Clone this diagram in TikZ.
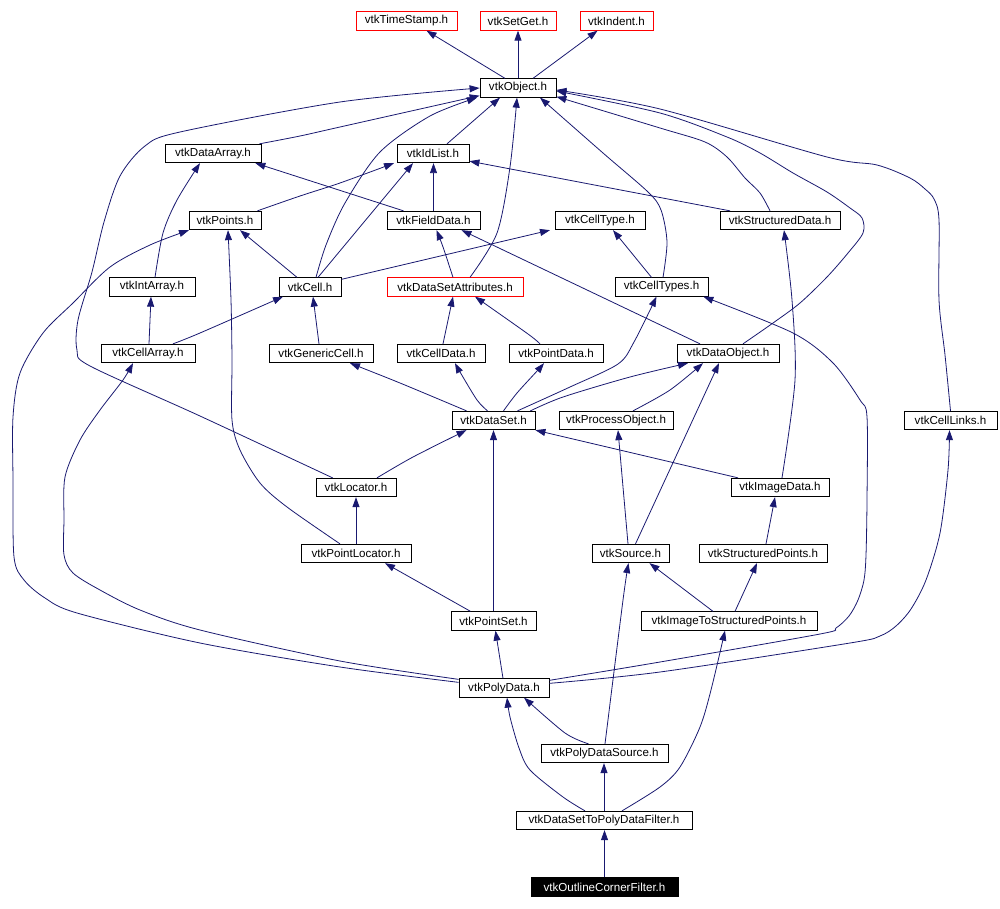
\documentclass[tikz,border=0pt]{standalone}
\usepackage{fontspec}
\setmainfont{Liberation Sans}
\usetikzlibrary{arrows.meta}
\definecolor{edgec}{RGB}{25,25,112}
\begin{document}
\begin{tikzpicture}[x=1pt,y=-1pt,
  box/.style={draw=black, line width=0.8pt, rectangle, inner sep=0pt, minimum height=18.5pt, font=\fontsize{11.6}{13}\selectfont, fill=white},
  redbox/.style={box, draw=red},
  curbox/.style={box, fill=black, text=white},
  edge/.style={draw=edgec, line width=0.8pt, -{Triangle[length=10pt,width=7pt]}}]
\path[use as bounding box] (0,0) rectangle (1000,909);
% nodes
\node[redbox, minimum width=101] (ts) at (406.5,21) {vtkTimeStamp.h};
\node[redbox, minimum width=76] (sg) at (518,21) {vtkSetGet.h};
\node[redbox, minimum width=73] (ind) at (616.5,21) {vtkIndent.h};
\node[box, minimum width=76] (obj) at (518,88) {vtkObject.h};
\node[box, minimum width=96] (da) at (213,153.5) {vtkDataArray.h};
\node[box, minimum width=72] (idl) at (433,153.5) {vtkIdList.h};
\node[box, minimum width=72] (pts) at (225,220.5) {vtkPoints.h};
\node[box, minimum width=93] (fd) at (433.5,220.5) {vtkFieldData.h};
\node[box, minimum width=90] (ct) at (600,220.5) {vtkCellType.h};
\node[box, minimum width=120] (sd) at (780,220.5) {vtkStructuredData.h};
\node[box, minimum width=86] (ia) at (152,287) {vtkIntArray.h};
\node[box, minimum width=62] (cell) at (310,287) {vtkCell.h};
\node[redbox, minimum width=136] (dsa) at (455,287) {vtkDataSetAttributes.h};
\node[box, minimum width=93] (cts) at (661.5,287) {vtkCellTypes.h};
\node[box, minimum width=94] (ca) at (148,353.5) {vtkCellArray.h};
\node[box, minimum width=104] (gc) at (321,353.5) {vtkGenericCell.h};
\node[box, minimum width=88] (cd) at (441,353.5) {vtkCellData.h};
\node[box, minimum width=94] (pd) at (556,353.5) {vtkPointData.h};
\node[box, minimum width=102] (do) at (728,353.5) {vtkDataObject.h};
\node[box, minimum width=83] (ds) at (493.5,420.5) {vtkDataSet.h};
\node[box, minimum width=114] (po) at (616,420.5) {vtkProcessObject.h};
\node[box, minimum width=93] (cl) at (950.5,420.5) {vtkCellLinks.h};
\node[box, minimum width=80] (loc) at (356,487.5) {vtkLocator.h};
\node[box, minimum width=98] (img) at (780,487.5) {vtkImageData.h};
\node[box, minimum width=110] (ploc) at (356,553.5) {vtkPointLocator.h};
\node[box, minimum width=77] (src) at (630.5,553.5) {vtkSource.h};
\node[box, minimum width=128] (sp) at (763,553.5) {vtkStructuredPoints.h};
\node[box, minimum width=85] (ps) at (493.5,621) {vtkPointSet.h};
\node[box, minimum width=176] (itsp) at (729,621) {vtkImageToStructuredPoints.h};
\node[box, minimum width=90] (poly) at (504,688) {vtkPolyData.h};
\node[box, minimum width=127] (pds) at (604.5,753.5) {vtkPolyDataSource.h};
\node[box, minimum width=176] (dspf) at (604,820.5) {vtkDataSetToPolyDataFilter.h};
\node[curbox, minimum width=147] (ocf) at (604.5,887) {vtkOutlineCornerFilter.h};
% edges
\draw[edge] ([xshift=-13]obj.north) -- ([xshift=20]ts.south);
\draw[edge] (obj.north) -- (sg.south);
\draw[edge] ([xshift=15]obj.north) -- ([xshift=-19]ind.south);
\draw[edge] plot[smooth] coordinates {([xshift=-2]da.north east) (300,136) (340,127) ([yshift=2]obj.south west)};
\draw[edge] plot[smooth] coordinates {([xshift=17]loc.north west) (200,416) (90,366) (77,350) (78,320) (92,272) (104,222) (120,176) (145,146) (180,132) (340,102) (obj.west)};
\draw[edge] ([xshift=14]idl.north) -- ([xshift=-18]obj.south);
\draw[edge] plot[smooth] coordinates {([xshift=6]cell.north) (326,245) (345,203) (380,152) (430,116) ([xshift=-41]obj.south)};
\draw[edge] plot[smooth] coordinates {([xshift=15]dsa.north) (497,233) (510,167) ([xshift=-1]obj.south)};
\draw[edge] plot[smooth] coordinates {([xshift=1.5]cts.north) (667,242) (661,210) (648,192) (603,153) ([xshift=22]obj.south)};
\draw[edge] plot[smooth] coordinates {([xshift=-10]sd.north) (760,193) (745,178) (727,157) (705,142) (660,128) ([yshift=1]obj.south east)};
\draw[edge] plot[smooth] coordinates {([xshift=15]do.north) (773,323) (800,303) (827,277) (848,253) (863,233) (862,218) (850,208) (827,192) (793,173) (760,153) (727,137) (660,113) ([yshift=-3]obj.east)};
\draw[edge] plot[smooth] coordinates {(cl.north) (945,355) (939,300) (939,220) (934,199) (925,189) (910,178) (877,165) (827,157) (660,109) ([yshift=-2]obj.east)};
\draw[edge] ([xshift=-30]fd.north) -- ([xshift=-6]da.south east);
\draw[edge] plot[smooth] coordinates {([xshift=-4]pts.north east) (300,196) (340,183) ([xshift=-39]idl.south)};
\draw[edge] ([xshift=8]cell.north) -- ([xshift=-20]idl.south);
\draw[edge] (fd.north) -- (fd.north |- idl.south);
\draw[edge] ([xshift=-50]sd.north) -- ([yshift=2]idl.south east);
\draw[edge] ([xshift=-13]cell.north) -- ([xshift=15]pts.south);
\draw[edge] ([yshift=-2]cell.north east) -- ([xshift=-50]ct.south);
\draw[edge] plot[smooth] coordinates {([yshift=-4]poly.north west) (340,667) (200,643) (77,613) (45,598) (24,580) (14,557) (13,480) (13,417) (20,373) (43,333) (73,303) (110,267) (150,245) ([xshift=-36]pts.south)};
\draw[edge] plot[smooth] coordinates {([yshift=-1]poly.north west) (340,661) (200,630) (140,610) (100,590) (73,573) (64,555) (64,520) (65,477) (80,440) (100,410) (123,380) ([xshift=-15]ca.south)};
\draw[edge] plot[smooth] coordinates {([xshift=3]ia.north) (163,233) (177,200) ([xshift=-13]da.south)};
\draw[edge] ([xshift=1]ca.north) -- ([xshift=-1]ia.south);
\draw[edge] plot[smooth] coordinates {([xshift=25]ca.north) (200,333) ([xshift=-27]cell.south)};
\draw[edge] ([xshift=-2]gc.north) -- ([xshift=3]cell.south);
\draw[edge] plot[smooth] coordinates {([xshift=-16]ploc.north) (287,507) (260,483) (240,450) (232,420) (232,360) (231,300) ([xshift=3]pts.south)};
\draw[edge] (ploc.north) -- (loc.south);
\draw[edge] plot[smooth] coordinates {([xshift=21]loc.north) (413,457) ([xshift=-27]ds.south)};
\draw[edge] ([xshift=-23]ps.north) -- ([xshift=29]ploc.south);
\draw[edge] (ps.north) -- (ds.south);
\draw[edge] plot[smooth] coordinates {([xshift=-27]ds.north) (400,383) ([xshift=29]gc.south)};
\draw[edge] plot[smooth] coordinates {([xshift=-6]ds.north) (477,400) (460,372) ([xshift=14]cd.south)};
\draw[edge] plot[smooth] coordinates {([xshift=10]ds.north) (517,393) (538,370) ([xshift=-12]pd.south)};
\draw[edge] plot[smooth] coordinates {([xshift=24]ds.north) (570,387) (618,364) (634,342) ([xshift=-5]cts.south)};
\draw[edge] plot[smooth] coordinates {([xshift=-5]ds.north east) (563,397) (630,377) ([xshift=-40]do.south)};
\draw[edge] plot[smooth] coordinates {([xshift=17]po.north) (670,390) ([xshift=-25]do.south)};
\draw[edge] ([xshift=-2.5]src.north) -- ([xshift=2]po.south);
\draw[edge] ([xshift=5]src.north) -- ([xshift=-9]do.south);
\draw[edge] ([xshift=-42]img.north) -- (ds.south east);
\draw[edge] plot[smooth] coordinates {([xshift=2]img.north) (795,380) (792,300) ([xshift=4]sd.south)};
\draw[edge] ([xshift=3]sp.north) -- ([xshift=-5]img.south);
\draw[edge] ([xshift=-16]itsp.north) -- ([xshift=19]src.south);
\draw[edge] ([xshift=6]itsp.north) -- ([xshift=-6]sp.south);
\draw[edge] ([xshift=-1]poly.north) -- ([xshift=2]ps.south);
\draw[edge] plot[smooth] coordinates {([yshift=-2]poly.north east) (660,662) (820,634) (836,628) (849,616) (858,600) (864,580) (866,555) (867,500) (867,417) (860,400) (833,363) (793,333) ([xshift=-5]cts.south east)};
\draw[edge] plot[smooth] coordinates {([yshift=-5]poly.north east) (660,672) (850,643) (880,636) (896,626) (911,609) (926,580) (940,533) (948,470) ([xshift=-1]cl.south)};
\draw[edge] plot[smooth] coordinates {([xshift=-16]pds.north) (565,733) ([xshift=20]poly.south)};
\draw[edge] plot[smooth] coordinates {([xshift=0.5]pds.north) (623,600) ([xshift=-2]src.south)};
\draw[edge] plot[smooth] coordinates {([xshift=-19]dspf.north) (563,797) (530,770) (519,748) (510,717) ([xshift=3]poly.south)};
\draw[edge] (dspf.north) -- (dspf.north |- pds.south);
\draw[edge] plot[smooth] coordinates {([xshift=18]dspf.north) (660,787) (680,767) (700,727) (711,690) ([xshift=-4]itsp.south)};
\draw[edge] (ocf.north) -- (ocf.north |- dspf.south);
\draw[edge] plot[smooth] coordinates {([xshift=-2]dsa.north) (443,247) ([xshift=3]fd.south)};
\draw[edge] ([xshift=-28]do.north) -- ([xshift=28]fd.south);
\draw[edge] ([xshift=-10]cts.north) -- ([xshift=13]ct.south);
\draw[edge] ([xshift=2]cd.north) -- ([xshift=-2]dsa.south);
\draw[edge] plot[smooth] coordinates {([xshift=-16]pd.north) (528,334) ([xshift=20]dsa.south)};
\end{tikzpicture}
\end{document}
